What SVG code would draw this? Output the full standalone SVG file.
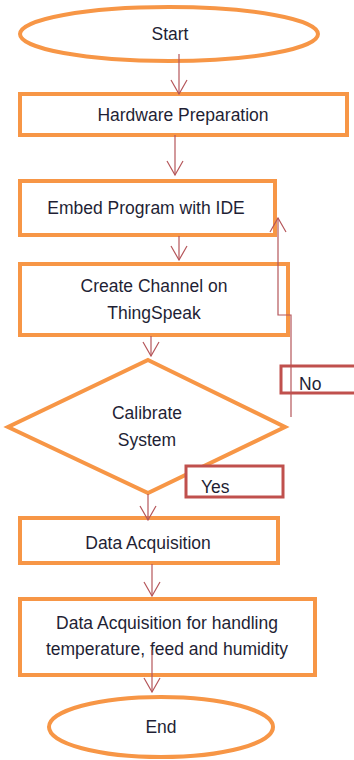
<svg xmlns="http://www.w3.org/2000/svg" width="354" height="760" viewBox="0 0 354 760">
  <style>
    .box { fill: #ffffff; stroke: #F79646; stroke-width: 4; }
    .tag { fill: #ffffff; stroke: #C0504D; stroke-width: 3; }
    .lbl { font-family: "Liberation Sans", Arial, sans-serif; font-size: 17.5px; fill: #1f1f35; }
    .mid { text-anchor: middle; }
    .wire { fill: none; stroke: #B5565A; stroke-width: 1.2; }
  </style>
  <defs>
    <marker id="head" viewBox="0 0 16 18" refX="15" refY="9" markerWidth="16" markerHeight="18" markerUnits="userSpaceOnUse" orient="auto">
      <path d="M1 1 L15 9 L1 17" fill="none" stroke="#B5565A" stroke-width="1.2"/>
    </marker>
  </defs>
  <rect width="354" height="760" fill="#ffffff"/>

  <g id="start">
    <ellipse class="box" cx="169" cy="34" rx="149" ry="27"/>
    <text class="lbl mid" x="170" y="40">Start</text>
  </g>

  <g id="hardware">
    <rect class="box" x="20" y="94" width="327" height="41"/>
    <text class="lbl mid" x="183" y="121">Hardware Preparation</text>
  </g>

  <g id="embed">
    <rect class="box" x="20" y="181" width="255" height="54"/>
    <text class="lbl mid" x="146" y="214">Embed Program with IDE</text>
  </g>

  <g id="channel">
    <rect class="box" x="20" y="264" width="268" height="71"/>
    <text class="lbl mid" x="154" y="292">Create Channel on</text>
    <text class="lbl mid" x="154" y="319">ThingSpeak</text>
  </g>

  <g id="calibrate">
    <polygon class="box" points="148,360 285,427 148,493 8,427"/>
    <text class="lbl mid" x="147" y="419">Calibrate</text>
    <text class="lbl mid" x="147" y="446">System</text>
  </g>

  <g id="acquisition">
    <rect class="box" x="20" y="518" width="258" height="45"/>
    <text class="lbl mid" x="148" y="549">Data Acquisition</text>
  </g>

  <g id="handling">
    <rect class="box" x="20" y="599" width="295" height="76"/>
    <text class="lbl mid" x="167" y="629">Data Acquisition for handling</text>
    <text class="lbl mid" x="167" y="655">temperature, feed and humidity</text>
  </g>

  <g id="end">
    <ellipse class="box" cx="161" cy="727" rx="112" ry="30"/>
    <text class="lbl mid" x="161" y="733">End</text>
  </g>

  <g id="connectors">
    <line class="wire" x1="179" y1="54" x2="179" y2="94" marker-end="url(#head)"/>
    <line class="wire" x1="175" y1="135" x2="175" y2="175" marker-end="url(#head)"/>
    <line class="wire" x1="179" y1="236" x2="179" y2="260" marker-end="url(#head)"/>
    <line class="wire" x1="151" y1="336" x2="151" y2="356" marker-end="url(#head)"/>
    <line class="wire" x1="148" y1="494" x2="148" y2="520" marker-end="url(#head)"/>
    <line class="wire" x1="152" y1="564" x2="152" y2="596" marker-end="url(#head)"/>
    <line class="wire" x1="152" y1="650" x2="152" y2="692" marker-end="url(#head)"/>
    <polyline class="wire" points="291,417 291,315 278,315 278,218" marker-end="url(#head)"/>
  </g>

  <g id="no-label">
    <rect class="tag" x="281" y="366" width="80" height="27"/>
    <line class="wire" x1="291" y1="366" x2="291" y2="393"/>
    <text class="lbl" x="299" y="390">No</text>
  </g>

  <g id="yes-label">
    <rect class="tag" x="186" y="466" width="97" height="31"/>
    <text class="lbl" x="201" y="493">Yes</text>
  </g>
</svg>
